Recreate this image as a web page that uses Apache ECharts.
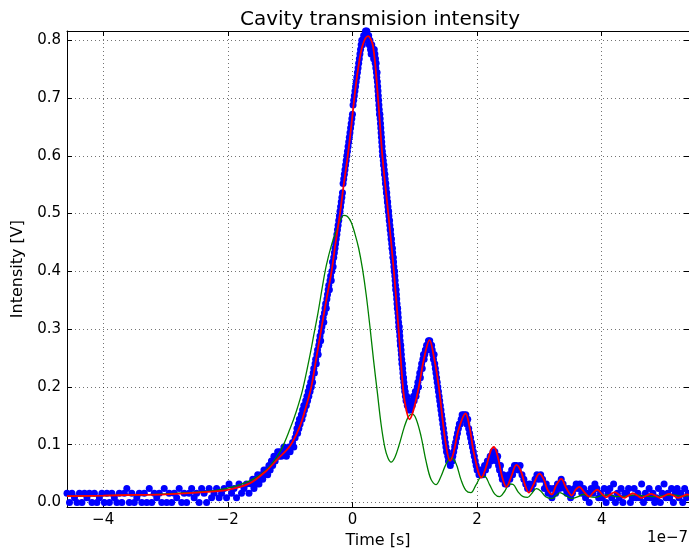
<!DOCTYPE html>
<html>
<head>
<meta charset="utf-8">
<script src="https://cdn.jsdelivr.net/npm/echarts@6/dist/echarts.min.js"></script>
<style>
  html, body { margin: 0; padding: 0; background: #fff; }
  #chart { width: 689px; height: 554px; }
</style>
</head>
<body>
<div id="chart"></div>
<script>
// Scope trace of the cavity transmission, time in units of 1e-7 s.
// Each block is sampled on a uniform time grid: start, step, samples.
const blockStart = [-4.58, -1.62, -0.90, 0.345, 0.85, 1.61, 2.63];
const blockStep  = [0.04, 0.02, 0.01, 0.005, 0.01, 0.015, 0.03];

const traceA = [0.016,0.0,0.016,0.008,0.0,0.016,0.0,0.016,0.008,0.016,
  0.0,0.016,0.0,0.008,0.016,0.0,0.016,0.0,0.016,0.008,
  0.0,0.016,0.0,0.016,0.024,0.0,0.016,0.0,0.008,0.016,
  0.0,0.016,0.0,0.024,0.0,0.016,0.008,0.016,0.0,0.024,
  0.0,0.016,0.0,0.016,0.008,0.024,0.0,0.016,0.0,0.016,
  0.024,0.008,0.016,0.0,0.024,0.016,0.0,0.024,0.008,0.016,
  0.024,0.008,0.016,0.024,0.008,0.032,0.016,0.024,0.008,0.032,
  0.016,0.024,0.032,0.016];

const traceB = [0.032,0.04,0.024,0.04,0.032,0.048,0.032,0.04,0.048,0.04,
  0.056,0.048,0.056,0.048,0.064,0.056,0.072,0.064,0.08,0.072,
  0.08,0.088,0.08,0.088,0.08,0.088,0.096,0.088,0.08,0.088,
  0.096,0.088,0.096,0.104,0.096,0.112];

const traceC = [0.12,0.128,0.12,0.136,0.128,0.144,0.136,0.144,0.152,0.144,
  0.16,0.152,0.168,0.16,0.168,0.176,0.168,0.184,0.176,0.192,
  0.184,0.2,0.192,0.208,0.2,0.216,0.208,0.224,0.232,0.224,
  0.24,0.248,0.24,0.256,0.264,0.256,0.272,0.28,0.288,0.28,
  0.296,0.304,0.312,0.32,0.312,0.328,0.336,0.344,0.336,0.352,
  0.36,0.368,0.376,0.368,0.384,0.392,0.384,0.4,0.416,0.408,
  0.424,0.432,0.44,0.448,0.456,0.464,0.472,0.48,0.488,0.496,
  0.504,0.512,0.52,0.528,0.536,0.552,0.56,0.568,0.576,0.584,
  0.592,0.6,0.608,0.616,0.624,0.632,0.64,0.648,0.656,0.664,
  0.672,0.688,0.696,0.704,0.712,0.72,0.728,0.736,0.744,0.752,
  0.76,0.768,0.776,0.784,0.792,0.8,0.792,0.8,0.808,0.8,
  0.808,0.816,0.808,0.816,0.808,0.8,0.808,0.792,0.8,0.784,
  0.776,0.792,0.776,0.784,0.768];

const traceD = [0.776,0.784,0.768,0.776,0.76,0.768,0.752,0.76,0.744,0.736,
  0.744,0.728,0.72,0.712,0.704,0.696,0.688,0.68,0.672,0.672,
  0.664,0.656,0.648,0.64,0.632,0.624,0.616,0.608,0.6,0.6,
  0.592,0.584,0.584,0.576,0.568,0.568,0.56,0.552,0.552,0.544,
  0.536,0.536,0.528,0.52,0.52,0.512,0.504,0.504,0.496,0.488,
  0.488,0.48,0.472,0.472,0.464,0.456,0.456,0.448,0.44,0.44,
  0.432,0.424,0.424,0.416,0.408,0.4,0.4,0.392,0.384,0.376,
  0.368,0.368,0.36,0.352,0.344,0.336,0.336,0.328,0.32,0.312,
  0.304,0.304,0.296,0.288,0.28,0.272,0.272,0.264,0.256,0.248,
  0.24,0.24,0.232,0.224,0.216,0.216,0.208,0.2,0.2,0.192,
  0.192];

const traceE = [0.184,0.176,0.184,0.168,0.176,0.168,0.16,0.168,0.16,0.168,
  0.176,0.168,0.176,0.184,0.176,0.184,0.192,0.184,0.192,0.2,
  0.208,0.2,0.216,0.224,0.216,0.232,0.24,0.232,0.248,0.256,
  0.248,0.256,0.264,0.264,0.272,0.264,0.272,0.28,0.272,0.28,
  0.272,0.264,0.272,0.264,0.256,0.248,0.256,0.24,0.232,0.224,
  0.216,0.208,0.2,0.192,0.184,0.176,0.168,0.16,0.152,0.144,
  0.136,0.128,0.12,0.112,0.104,0.096,0.088,0.088,0.08,0.072,
  0.08,0.072,0.064,0.072,0.08,0.072];

const traceF = [0.08,0.088,0.096,0.104,0.112,0.12,0.128,0.136,0.136,0.144,
  0.152,0.144,0.152,0.144,0.152,0.136,0.144,0.128,0.12,0.112,
  0.104,0.096,0.088,0.08,0.072,0.064,0.056,0.056,0.048,0.056,
  0.048,0.056,0.048,0.056,0.064,0.056,0.064,0.072,0.064,0.072,
  0.08,0.072,0.08,0.088,0.08,0.088,0.08,0.072,0.08,0.064,
  0.056,0.064,0.048,0.04,0.048,0.04,0.032,0.04,0.032,0.04,
  0.048,0.04,0.048,0.056,0.048,0.056,0.064];

const traceG = [0.064,0.056,0.064,0.048,0.04,0.032,0.024,0.032,0.024,0.032,
  0.04,0.048,0.04,0.048,0.04,0.024,0.032,0.016,0.024,0.008,
  0.024,0.016,0.032,0.024,0.04,0.032,0.024,0.016,0.024,0.008,
  0.016,0.024,0.032,0.024,0.032,0.016,0.024,0.008,0.016,0.0,
  0.024,0.016,0.032,0.024,0.008,0.016,0.008,0.024,0.0,0.016,
  0.024,0.008,0.032,0.0,0.016,0.008,0.024,0.0,0.016,0.016,
  0.024,0.0,0.008,0.024,0.008,0.016,0.008,0.032,0.0,0.016,
  0.008,0.024,0.008,0.016,0.0,0.008,0.024,0.0,0.016,0.032,
  0.008,0.016,0.008,0.024,0.0,0.016,0.024,0.008,0.016,0.0,
  0.024,0.008,0.016];

// Fitted model (red)
const fitT = [-4.58,-4.0,-3.5,-3.0,-2.5,-2.0,-1.65,-1.38,-1.2,-1.0,
  -0.85,-0.76,-0.66,-0.58,-0.5,-0.42,-0.335,-0.27,-0.2,-0.14,
  -0.075,-0.02,0.03,0.09,0.16,0.25,0.33,0.41,0.48,0.575,
  0.665,0.74,0.81,0.85,0.915,0.98,1.065,1.15,1.237,1.31,
  1.386,1.45,1.5,1.565,1.62,1.7,1.815,1.88,1.95,2.07,
  2.14,2.22,2.27,2.33,2.4,2.47,2.55,2.63,2.7,2.77,
  2.83,2.9,3.0,3.07,3.13,3.2,3.27,3.35,3.43,3.52,
  3.58,3.64,3.72,3.8,3.87,3.93,4.0,4.07,4.14,4.21,
  4.28,4.36,4.43,4.5,4.57,4.64,4.72,4.79,4.86,4.93,
  5.0,5.08,5.15,5.22,5.3,5.37,5.4];
const fitV = [0.011,0.012,0.013,0.014,0.017,0.022,0.033,0.055,0.075,0.098,
  0.13,0.16,0.2,0.25,0.3,0.35,0.4,0.45,0.5,0.55,
  0.6,0.65,0.7,0.75,0.79,0.807,0.79,0.7,0.6,0.5,
  0.4,0.3,0.2,0.168,0.144,0.16,0.2,0.25,0.281,0.25,
  0.2,0.14,0.1,0.072,0.085,0.125,0.154,0.13,0.085,0.043,
  0.06,0.09,0.096,0.08,0.045,0.027,0.045,0.065,0.055,0.03,
  0.017,0.03,0.05,0.04,0.022,0.014,0.03,0.041,0.025,0.012,
  0.022,0.027,0.018,0.01,0.018,0.022,0.015,0.009,0.014,0.018,
  0.013,0.008,0.012,0.016,0.012,0.008,0.012,0.015,0.012,0.008,
  0.011,0.015,0.012,0.008,0.011,0.014,0.013];

// Single-pass response (green)
const singleT = [-4.58,-4.0,-3.5,-3.0,-2.5,-2.2,-2.0,-1.8,-1.6,-1.45,
  -1.3,-1.15,-1.0,-0.9,-0.8,-0.7,-0.62,-0.55,-0.48,-0.42,
  -0.33,-0.26,-0.2,-0.14,-0.08,-0.02,0.04,0.1,0.16,0.22,
  0.28,0.34,0.4,0.46,0.52,0.57,0.62,0.68,0.75,0.83,
  0.9,0.96,1.02,1.1,1.18,1.26,1.34,1.42,1.5,1.58,
  1.66,1.74,1.82,1.9,1.98,2.06,2.12,2.2,2.28,2.36,
  2.44,2.52,2.58,2.66,2.74,2.81,2.88,2.95,3.02,3.1,
  3.2,3.27,3.33,3.42,3.52,3.62,3.7,3.8,3.9,4.0,
  4.1,4.25,4.4,4.55,4.7,4.85,5.0,5.15,5.3,5.4];
const singleV = [0.011,0.012,0.013,0.015,0.018,0.021,0.025,0.031,0.04,0.05,
  0.066,0.09,0.128,0.158,0.195,0.245,0.29,0.33,0.375,0.41,
  0.448,0.47,0.487,0.497,0.495,0.485,0.465,0.44,0.405,0.36,
  0.305,0.245,0.19,0.135,0.095,0.077,0.07,0.078,0.1,0.13,
  0.149,0.153,0.145,0.115,0.072,0.04,0.031,0.045,0.066,0.077,
  0.068,0.04,0.021,0.017,0.03,0.044,0.045,0.031,0.015,0.01,
  0.019,0.032,0.031,0.018,0.01,0.009,0.016,0.024,0.02,0.01,
  0.007,0.012,0.017,0.012,0.007,0.01,0.014,0.01,0.009,0.012,
  0.013,0.01,0.011,0.013,0.011,0.01,0.012,0.013,0.011,0.012];

const xTicks = [-4, -2, 0, 2, 4];
const yTicks = [0, 0.1, 0.2, 0.3, 0.4, 0.5, 0.6, 0.7, 0.8];

const traceBlocks = [traceA, traceB, traceC, traceD, traceE, traceF, traceG];
const tracePoints = [];
traceBlocks.forEach(function (vals, b) {
  vals.forEach(function (v, i) {
    tracePoints.push([blockStart[b] + i * blockStep[b], v]);
  });
});
const zip = (t, v) => t.map((x, i) => [x, v[i]]);

const FONT = 'DejaVu Sans';
const gridLine = { show: true, lineStyle: { color: '#000', opacity: 0.55, width: 1, type: [1, 3] } };
const frame = { show: true, onZero: false, lineStyle: { color: '#000', width: 1 } };
const tickIn = (vals) => ({ show: true, inside: true, length: 5, customValues: vals, lineStyle: { color: '#000', width: 1 } });
const minus = (s) => s.replace('-', '\u2212');

const chart = echarts.init(document.getElementById('chart'), null, { renderer: 'canvas' });
chart.setOption({
  animation: false,
  backgroundColor: '#fff',
  title: {
    text: 'Cavity transmision intensity',
    left: 375, top: 5, textAlign: 'center',
    textStyle: { fontFamily: FONT, fontSize: 20, fontWeight: 'normal', color: '#000' }
  },
  grid: { left: 67, right: 0, top: 31, bottom: 42, containLabel: false },
  xAxis: [{
    type: 'value', position: 'bottom', min: -4.58, max: 5.40,
    axisLine: frame, axisTick: tickIn(xTicks), splitLine: gridLine,
    axisLabel: { customValues: xTicks, margin: 6, fontFamily: FONT, fontSize: 15, color: '#000',
      formatter: (v) => minus(String(v)) },
    name: 'Time [s]', nameLocation: 'middle', nameGap: 25,
    nameTextStyle: { fontFamily: FONT, fontSize: 16, color: '#000' }
  }, {
    type: 'value', position: 'top', min: -4.58, max: 5.40,
    axisLine: frame, axisTick: tickIn(xTicks), axisLabel: { show: false }, splitLine: { show: false }
  }],
  yAxis: [{
    type: 'value', position: 'left', min: -0.008, max: 0.816,
    axisLine: frame, axisTick: tickIn(yTicks), splitLine: gridLine,
    axisLabel: { customValues: yTicks, margin: 6, fontFamily: FONT, fontSize: 15, color: '#000',
      formatter: (v) => v.toFixed(1) },
    name: 'Intensity [V]', nameLocation: 'middle', nameGap: 39, nameRotate: 90,
    nameTextStyle: { fontFamily: FONT, fontSize: 16, color: '#000' }
  }, {
    type: 'value', position: 'right', min: -0.008, max: 0.816,
    axisLine: frame, axisTick: tickIn(yTicks), axisLabel: { show: false }, splitLine: { show: false }
  }],
  graphic: [{
    type: 'text', right: 1, top: 531,
    style: { text: '1e\u22127', fontFamily: FONT, fontSize: 15, fill: '#000' }
  }],
  series: [{
    name: 'measured', type: 'scatter', data: tracePoints, symbol: 'circle', symbolSize: 7,
    itemStyle: { color: '#0000ff', opacity: 1 }, z: 2, large: false
  }, {
    name: 'single pass', type: 'line', data: zip(singleT, singleV), showSymbol: false, smooth: 0.35,
    lineStyle: { color: '#008000', width: 1.3 }, z: 3
  }, {
    name: 'fit', type: 'line', data: zip(fitT, fitV), showSymbol: false, smooth: 0.35,
    lineStyle: { color: '#ff0000', width: 1.8 }, z: 4
  }]
});
</script>
</body>
</html>
